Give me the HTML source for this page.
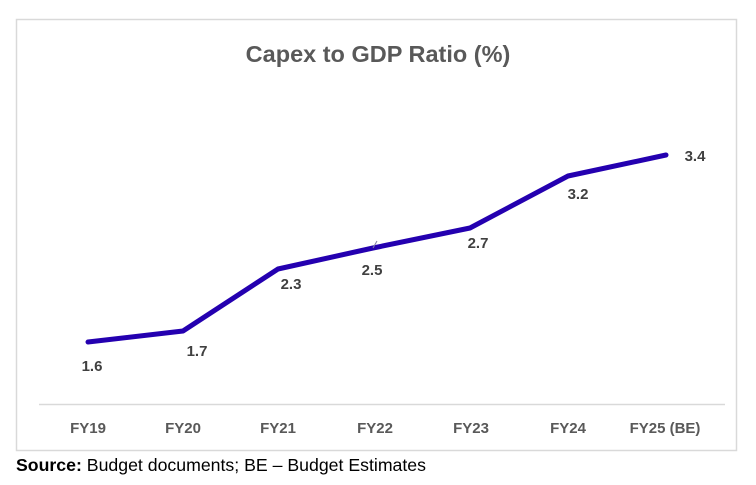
<!DOCTYPE html>
<html><head><style>
body{margin:0;background:#fff;width:756px;height:485px;overflow:hidden;font-family:"Liberation Sans",Calibri,sans-serif}
</style></head><body>
<svg width="756" height="485" xmlns="http://www.w3.org/2000/svg" style="position:absolute;left:0;top:0">
<rect x="16.5" y="19.5" width="720" height="431" fill="#fff" stroke="#d9d9d9" stroke-width="1.5"/>
<text x="378" y="62" text-anchor="middle" font-size="23.5" font-weight="bold" fill="#595959" font-family="Liberation Sans,sans-serif">Capex to GDP Ratio (%)</text>
<line x1="39" y1="404.5" x2="725" y2="404.5" stroke="#d9d9d9" stroke-width="1.5"/>
<polyline points="88,342 183,331 278,269 373,248 470,228 568,176 666,155" fill="none" stroke="#2400b0" stroke-width="5" stroke-linejoin="round" stroke-linecap="round"/>
<line x1="373" y1="248" x2="377" y2="241" stroke="#8080a0" stroke-width="1"/>
<g font-size="15" font-weight="bold" fill="#404040" text-anchor="middle" font-family="Liberation Sans,sans-serif">
<text x="92" y="371">1.6</text>
<text x="197" y="356">1.7</text>
<text x="291" y="289">2.3</text>
<text x="372" y="275">2.5</text>
<text x="478" y="248">2.7</text>
<text x="578" y="199">3.2</text>
<text x="695" y="161">3.4</text>
</g>
<g font-size="15" font-weight="bold" fill="#595959" text-anchor="middle" font-family="Liberation Sans,sans-serif">
<text x="88" y="433">FY19</text>
<text x="183" y="433">FY20</text>
<text x="278" y="433">FY21</text>
<text x="375" y="433">FY22</text>
<text x="471" y="433">FY23</text>
<text x="568" y="433">FY24</text>
<text x="665" y="433">FY25 (BE)</text>
</g>
<text x="16" y="471" font-size="17.7" fill="#000" font-family="Liberation Sans,sans-serif"><tspan font-weight="bold">Source:</tspan> Budget documents; BE – Budget Estimates</text>
</svg>
</body></html>
